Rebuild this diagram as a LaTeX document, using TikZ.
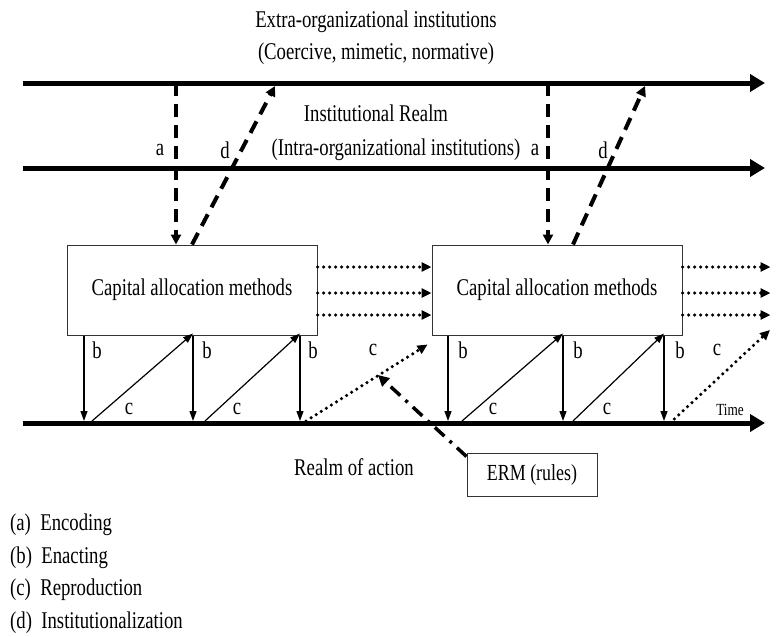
\documentclass[tikz,border=0pt]{standalone}
\usepackage{fontspec}
\setmainfont{Liberation Serif}[FakeStretch=0.78]
\usetikzlibrary{arrows.meta, positioning, calc}

\begin{document}
\begin{tikzpicture}[x=1pt, y=-1pt,
    realm/.style={-{Triangle[length=15pt, width=17pt]}, line width=5pt},
    methodbox/.style={rectangle, draw=black!80, line width=1pt, minimum width=250pt, minimum height=90pt, font=\fontsize{24}{28}\selectfont, inner sep=0pt},
    rulebox/.style={rectangle, draw=black!80, line width=1pt, minimum width=130pt, minimum height=43pt, font=\fontsize{23}{27}\selectfont, inner sep=0pt},
    encode/.style={-{Triangle[length=10pt, width=10pt]}, line width=4pt, dash pattern=on 13pt off 8pt},
    enact/.style={-{Triangle[length=10pt, width=7pt]}, line width=1.2pt},
    reproduce/.style={-{Triangle[length=10pt, width=9pt]}, line width=3.5pt, line cap=round, dash pattern=on 0pt off 6pt},
    ruleflow/.style={-{Triangle[length=11pt, width=11pt]}, line width=3.5pt, dash pattern=on 13pt off 7pt on 3pt off 7pt},
    lbl/.style={font=\fontsize{24}{28}\selectfont, inner sep=0pt},
    legend/.style={font=\fontsize{24}{28}\selectfont, anchor=west, inner sep=0pt},
]
\useasboundingbox (0,0) rectangle (779,637);

% realms
\coordinate (extL) at (23,83);
\coordinate (extR) at (765,83);
\coordinate (intL) at (23,168);
\coordinate (intR) at (765,168);
\coordinate (actL) at (23,423);
\coordinate (actR) at (765,423);
\draw[realm] (extL) -- (extR);
\draw[realm] (intL) -- (intR);
\draw[realm] (actL) -- (actR);

\node[lbl] (extra) at (376,22) {Extra-organizational institutions};
\node[lbl] (coerc) at (376,54) {(Coercive, mimetic, normative)};
\node[lbl] (instr) at (376,113) {Institutional Realm};
\node[lbl] (intra) at (396,150) {(Intra-organizational institutions)};
\node[lbl] (action) at (354,467) {Realm of action};
\node[font=\fontsize{17}{20}\selectfont, inner sep=0pt] (time) at (730,410) {Time};

% methods
\node[methodbox] (cam1) at (192,290) {Capital allocation methods};
\node[methodbox] (cam2) at (557,290) {Capital allocation methods};
\node[rulebox] (erm) at (532,474.5) {ERM (rules)};

% encoding and institutionalization
\coordinate (a1) at (176,83);
\coordinate (d1) at (275,86);
\coordinate (a2) at (548,83);
\coordinate (d2) at (645,86);
\draw[encode] (a1) -- (a1 |- cam1.north);
\draw[encode] (cam1.north) -- (d1);
\draw[encode] (a2) -- (a2 |- cam2.north);
\draw[encode] ([xshift=16pt]cam2.north) -- (d2);
\node[lbl] (la1) at (160,150) {a};
\node[lbl] (ld1) at (225,150) {d};
\node[lbl] (la2) at (535,150) {a};
\node[lbl] (ld2) at (603,150) {d};

% enacting and reproduction
\coordinate (t1) at (84,421);
\coordinate (t2) at (193,421);
\coordinate (t3) at (300,421);
\coordinate (t4) at (448,421);
\coordinate (t5) at (563,421);
\coordinate (t6) at (664,421);
\draw[enact] (t1 |- cam1.south) -- (t1);
\draw[enact] (t2 |- cam1.south) -- (t2);
\draw[enact] (t3 |- cam1.south) -- (t3);
\draw[enact] (t4 |- cam2.south) -- (t4);
\draw[enact] (t5 |- cam2.south) -- (t5);
\draw[enact] (t6 |- cam2.south) -- (t6);
\draw[enact] ([xshift=8pt]t1) -- ([yshift=2pt]t2 |- cam1.south);
\draw[enact] ([xshift=12pt]t2) -- ([yshift=2pt]t3 |- cam1.south);
\draw[enact] ([xshift=14pt]t4) -- ([yshift=2pt]t5 |- cam2.south);
\draw[enact] ([xshift=10pt]t5) -- ([yshift=2pt]t6 |- cam2.south);
\draw[reproduce] ([xshift=6pt]t3) -- ([xshift=-4pt, yshift=-9pt]cam2.south west);
\draw[reproduce] ([xshift=6pt, yshift=-2pt]t6) -- (770,330);

\node[lbl] (lb1) at (97,350) {b};
\node[lbl] (lb2) at (207,350) {b};
\node[lbl] (lb3) at (313,350) {b};
\node[lbl] (lb4) at (463,350) {b};
\node[lbl] (lb5) at (578,350) {b};
\node[lbl] (lb6) at (680,350) {b};
\node[lbl] (lc1) at (129,409) {c};
\node[lbl] (lc2) at (237,409) {c};
\node[lbl] (lc3) at (493,409) {c};
\node[lbl] (lc4) at (607,409) {c};
\node[lbl] (lc5) at (373,350) {c};
\node[lbl] (lc6) at (717,350) {c};

% carried forward
\draw[reproduce] ([yshift=-25pt]cam1.east) -- ([yshift=-25pt]cam2.west);
\draw[reproduce] ([yshift=-3pt]cam1.east) -- ([yshift=-3pt]cam2.west);
\draw[reproduce] ([yshift=23pt]cam1.east) -- ([yshift=23pt]cam2.west);
\draw[reproduce] ([yshift=-25pt]cam2.east) -- ++(88,0);
\draw[reproduce] ([yshift=-3pt]cam2.east) -- ++(88,0);
\draw[reproduce] ([yshift=23pt]cam2.east) -- ++(88,0);

% rules
\draw[ruleflow] ([yshift=-4pt]erm.north west) -- (378,375);

% legend
\node[legend] (leg1) at (10,525) {(a)\ \ Encoding};
\node[legend] (leg2) at (10,558) {(b)\ \ Enacting};
\node[legend] (leg3) at (10,590) {(c)\ \ Reproduction};
\node[legend] (leg4) at (10,623) {(d)\ \ Institutionalization};

\end{tikzpicture}
\end{document}
